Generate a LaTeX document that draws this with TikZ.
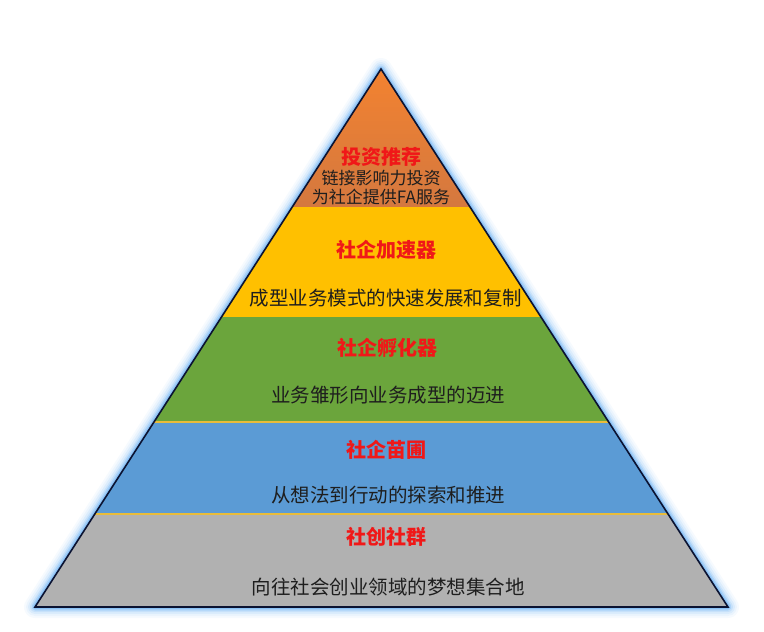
\documentclass[tikz,border=0pt]{standalone}
\usepackage{fontspec}
\setmainfont{Noto Sans CJK SC}
\usetikzlibrary{shadings}
\definecolor{cOrangeT}{HTML}{F5832F}
\definecolor{cOrangeB}{HTML}{D4783F}
\definecolor{cYellow}{HTML}{FFC000}
\definecolor{cGreen}{HTML}{6BA53C}
\definecolor{cBlue}{HTML}{5B9BD5}
\definecolor{cGray}{HTML}{B1B1B1}
\definecolor{cSep}{HTML}{E9BC3A}
\definecolor{cGlow}{HTML}{6AB0F2}
\definecolor{cEdge}{HTML}{0B1332}
\definecolor{cTitle}{HTML}{F01818}
\definecolor{cBody}{HTML}{1E1E1E}
\tikzset{
  titletext/.style={text=cTitle, font=\fontsize{20}{22}\selectfont\bfseries, inner sep=0pt},
  bodytext/.style={text=cBody, font=\fontsize{19.5}{22}\selectfont, inner sep=0pt},
  smalltext/.style={text=cBody, font=\fontsize{17}{19}\selectfont, inner sep=0pt},
  seprule/.style={cSep, line width=2.2pt},
}
\begin{document}
\begin{tikzpicture}[x=1pt,y=-1pt]
\useasboundingbox (0,0) rectangle (764,632);
\coordinate (A) at (381,69);
\coordinate (L) at (35,607);
\coordinate (R) at (728,607);
% glow
\foreach \w/\o in {22/0.06,18/0.08,14/0.12,10/0.18,7/0.3,4/0.5}{
  \draw[cGlow, line width=\w pt, line join=round, opacity=\o] (A) -- (L) -- (R) -- cycle;
}
% bands
\begin{scope}
\clip (A) -- (L) -- (R) -- cycle;
\shade[top color=cOrangeT, bottom color=cOrangeB] (0,60) rectangle (764,207);
\fill[cYellow] (0,207) rectangle (764,317);
\fill[cGreen] (0,317) rectangle (764,422);
\fill[cBlue] (0,422) rectangle (764,514);
\fill[cGray] (0,514) rectangle (764,620);
\draw[seprule] (0,422) -- (764,422);
\draw[seprule] (0,514) -- (764,514);
\end{scope}
\draw[cEdge, line width=1.6pt, line join=miter] (A) -- (L) -- (R) -- cycle;
% texts
\node[titletext] (t1) at (381,157) {投资推荐};
\node[smalltext] (s1a) at (381,178) {链接影响力投资};
\node[smalltext] (s1b) at (381,197) {为社企提供FA服务};
\node[titletext] (t2) at (386,250) {社企加速器};
\node[bodytext] (b2) at (386,298) {成型业务模式的快速发展和复制};
\node[titletext] (t3) at (387,348) {社企孵化器};
\node[bodytext] (b3) at (388,395) {业务雏形向业务成型的迈进};
\node[titletext] (t4) at (386,450) {社企苗圃};
\node[bodytext] (b4) at (388,495) {从想法到行动的探索和推进};
\node[titletext] (t5) at (386,537) {社创社群};
\node[bodytext] (b5) at (388,587) {向往社会创业领域的梦想集合地};
\end{tikzpicture}
\end{document}
